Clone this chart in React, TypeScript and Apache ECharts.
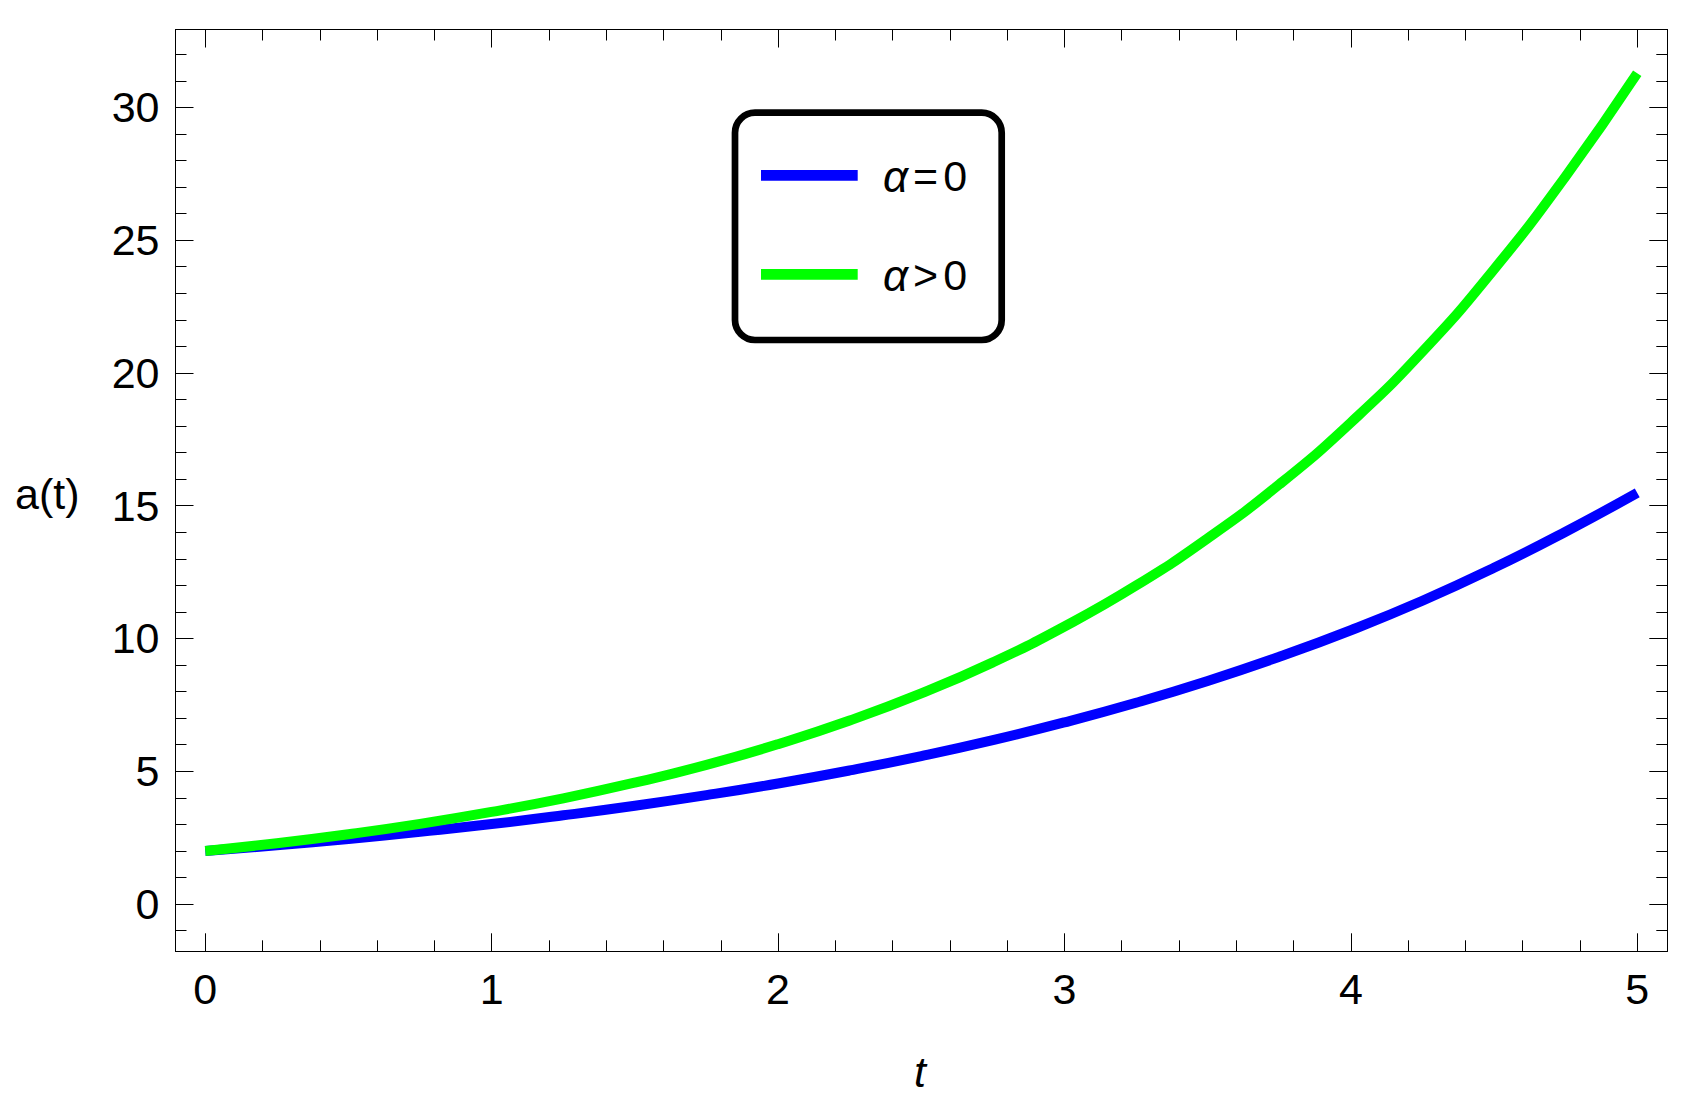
import React, { useEffect, useRef } from "react";
import * as echarts from "echarts";

// ---- data ----
const T_VALUES = [0, 0.25, 0.5, 0.75, 1, 1.25, 1.5, 1.75, 2, 2.25, 2.5, 2.75, 3, 3.25, 3.5, 3.75, 4, 4.25, 4.5, 4.75, 5];
const ALPHA_ZERO = [2.0, 2.21, 2.45, 2.72, 3.01, 3.34, 3.7, 4.1, 4.54, 5.03, 5.57, 6.17, 6.84, 7.58, 8.4, 9.31, 10.31, 11.42, 12.66, 14.02, 15.48];
const ALPHA_POS = [2.0, 2.29, 2.63, 3.02, 3.47, 3.98, 4.57, 5.24, 6.02, 6.91, 7.93, 9.1, 10.45, 11.99, 13.77, 15.8, 18.13, 20.8, 23.9, 27.4, 31.28];
const SERIES_NAMES = ["α=0", "α>0"];
const LEGEND_RICH = ["{i|α}{e|=}{z|0}", "{i|α}{e|>}{z|0}"];
const X_LABEL = "t";
const Y_LABEL = "a(t)";

const FONT = "'Liberation Sans', Arial, sans-serif";
const BLUE = "#0000ff";
const GREEN = "#00ff00";

export default function App() {
  const ref = useRef<HTMLDivElement>(null);

  useEffect(() => {
    if (!ref.current) return;
    const chart = echarts.init(ref.current, null, { renderer: "svg" });

    const xFmt = (v: number) => (Math.abs(v - Math.round(v)) < 1e-9 ? String(Math.round(v)) : "");
    const yFmt = (v: number) => {
      const r = Math.round(v);
      return Math.abs(v - r) < 1e-9 && r % 5 === 0 ? String(r) : "";
    };

    const common = {
      type: "value",
      axisLine: { show: true, onZero: false, lineStyle: { color: "#000", width: 1 } },
      axisTick: { show: true, inside: true, length: 18, lineStyle: { color: "#000", width: 1 } },
      minorTick: { show: true, splitNumber: 5, length: 11, lineStyle: { color: "#000", width: 1 } },
      splitLine: { show: false },
      minorSplitLine: { show: false },
    };

    const xBase = { ...common, min: -0.104, max: 5.105, minInterval: 1, maxInterval: 1 };
    const yBase = { ...common, min: -1.78, max: 32.93, minInterval: 5, maxInterval: 5 };
    const labelStyle = { color: "#000", fontSize: 43, fontFamily: FONT, margin: 16 };

    const legendRich = {
      i: { fontStyle: "italic", fontSize: 44, fontFamily: FONT, fill: "#000" },
      e: { fontSize: 43, fontFamily: FONT, fill: "#000", padding: [0, 0, 0, 5] },
      z: { fontSize: 43, fontFamily: FONT, fill: "#000", padding: [0, 0, 0, 5] },
    };

    chart.setOption({
      animation: false,
      backgroundColor: "#fff",
      grid: { left: 175.5, top: 29.5, width: 1491.8, height: 921.8, containLabel: false, outerBoundsMode: "none" },
      xAxis: [
        { ...xBase, position: "bottom", axisLabel: { ...labelStyle, formatter: xFmt, showMinLabel: false, showMaxLabel: false } },
        { ...xBase, position: "top", axisLabel: { show: false } },
      ],
      yAxis: [
        { ...yBase, position: "left", axisLabel: { ...labelStyle, formatter: yFmt, showMinLabel: false, showMaxLabel: false } },
        { ...yBase, position: "right", axisLabel: { show: false } },
      ],
      series: [
        {
          name: SERIES_NAMES[0],
          type: "line",
          data: T_VALUES.map((t, i) => [t, ALPHA_ZERO[i]]),
          showSymbol: false,
          smooth: true,
          lineStyle: { color: BLUE, width: 10 },
          itemStyle: { color: BLUE },
          xAxisIndex: 0,
          yAxisIndex: 0,
          z: 2,
        },
        {
          name: SERIES_NAMES[1],
          type: "line",
          data: T_VALUES.map((t, i) => [t, ALPHA_POS[i]]),
          showSymbol: false,
          smooth: true,
          lineStyle: { color: GREEN, width: 10 },
          itemStyle: { color: GREEN },
          xAxisIndex: 0,
          yAxisIndex: 0,
          z: 3,
        },
      ],
      graphic: [
        {
          type: "text",
          left: 15,
          top: 472,
          style: { text: Y_LABEL, fontSize: 43, fontFamily: FONT, fill: "#000" },
        },
        {
          type: "text",
          x: 920,
          y: 1072,
          style: { text: X_LABEL, fontSize: 43, fontFamily: FONT, fontStyle: "italic", fill: "#000", align: "center", verticalAlign: "middle" },
        },
        {
          type: "group",
          z: 100,
          children: [
            {
              type: "rect",
              shape: { x: 735, y: 112.7, width: 266.7, height: 227.3, r: 20 },
              style: { fill: "#fff", stroke: "#000", lineWidth: 6.7 },
            },
            {
              type: "line",
              shape: { x1: 761, y1: 175.3, x2: 857.7, y2: 175.3 },
              style: { stroke: BLUE, lineWidth: 10.7 },
            },
            {
              type: "line",
              shape: { x1: 761, y1: 274.3, x2: 857.7, y2: 274.3 },
              style: { stroke: GREEN, lineWidth: 10.7 },
            },
            {
              type: "text",
              x: 883,
              y: 176,
              style: {
                text: LEGEND_RICH[0],
                fontSize: 43,
                fontFamily: FONT,
                fill: "#000",
                verticalAlign: "middle",
                rich: legendRich,
              },
            },
            {
              type: "text",
              x: 883,
              y: 275,
              style: {
                text: LEGEND_RICH[1],
                fontSize: 43,
                fontFamily: FONT,
                fill: "#000",
                verticalAlign: "middle",
                rich: legendRich,
              },
            },
          ],
        },
      ],
    });

    return () => chart.dispose();
  }, []);

  return (
    <div
      ref={ref}
      style={{ position: "fixed", left: 0, top: 0, width: 1698, height: 1114, background: "#fff" }}
    />
  );
}
